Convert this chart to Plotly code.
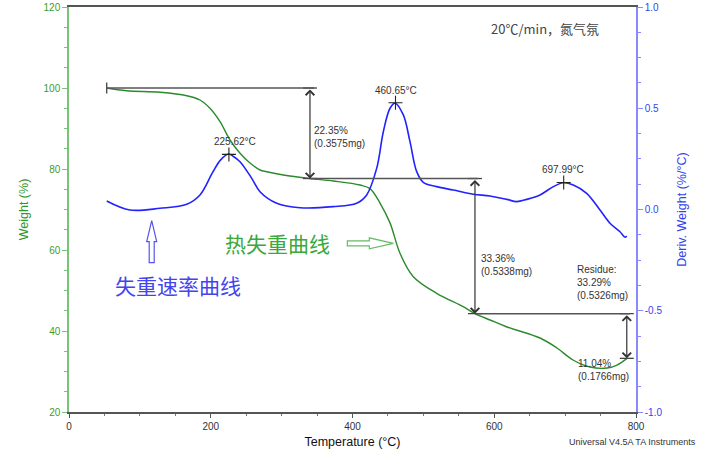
import plotly.graph_objects as go

# ---- data ----
temp_tga = [53.2, 81.4, 128.4, 166.1, 184.8, 198.9, 213.1, 227.2, 241.3, 255.4, 269.5, 278.9,
            302.4, 340.0, 372.9, 410.6, 424.7, 438.8, 452.9, 467.0, 485.8, 518.8, 556.3, 572.8,
            594.0, 618.0, 664.6, 688.5, 711.1, 735.1, 759.1, 773.2, 787.3]
weight = [100.0, 99.33, 98.94, 98.1, 97.04, 94.99, 91.68, 87.16, 83.88, 81.48, 79.75, 79.33,
          78.52, 77.65, 77.04, 76.05, 75.15, 71.6, 66.7, 59.2, 53.41, 49.31, 46.0, 44.29,
          42.72, 40.99, 38.27, 35.8, 32.84, 31.11, 30.86, 31.6, 33.25]

temp_dtg = [53.2, 86.1, 128.4, 166.1, 184.8, 203.2, 214.0, 224.8, 232.0, 241.3, 257.8, 269.5,
            293.1, 325.9, 372.5, 405.9, 420.0, 434.1, 443.5, 452.9, 460.0, 471.7, 481.1, 490.6,
            499.9, 518.8, 542.2, 570.4, 594.0, 617.6, 631.7, 645.8, 664.6, 683.4, 697.5, 711.5,
            730.4, 749.2, 763.3, 777.4, 784.5, 786.9]
deriv = [0.042, -0.0025, 0.006, 0.026, 0.072, 0.187, 0.245, 0.274, 0.262, 0.236, 0.154, 0.088,
         0.031, 0.009, 0.014, 0.031, 0.072, 0.203, 0.384, 0.50, 0.525, 0.467, 0.335, 0.187,
         0.134, 0.113, 0.096, 0.075, 0.067, 0.050, 0.039, 0.050, 0.072, 0.113, 0.132, 0.121,
         0.080, -0.0025, -0.068, -0.110, -0.137, -0.131]

peak_T = [225.62, 460.65, 697.99]
peak_D = [0.272, 0.527, 0.133]
peak_labels = ["225.62°C", "460.65°C", "697.99°C"]

# step analysis (weight %, temperatures)
step_start_T = 53.2
step_T = [340.0, 572.8, 787.0]
step_W = [100.0, 77.65, 44.29, 33.25]
step_texts = ["22.35%<br>(0.3575mg)", "33.36%<br>(0.5338mg)", "11.04%<br>(0.1766mg)"]
residue_text = "Residue:<br>33.29%<br>(0.5326mg)"

x_ticks = [0, 200, 400, 600, 800]
y_ticks = [20, 40, 60, 80, 100, 120]
y2_ticks = [1.0, 0.5, 0.0, -0.5, -1.0]
y2_ticktext = ["1.0", "0.5", "0.0", "-0.5", "-1.0"]

GREEN = "#2b8a2b"
BLUE = "#2222ff"
FONT = "Liberation Sans, Arial, sans-serif"
CJK = "Noto Sans CJK SC, sans-serif"
TXT = "#333333"

fig = go.Figure()
fig.add_trace(go.Scatter(x=temp_tga, y=weight, mode="lines", line=dict(color=GREEN, width=1.4, shape="spline"),
                         yaxis="y", showlegend=False, hoverinfo="skip"))
fig.add_trace(go.Scatter(x=temp_dtg, y=deriv, mode="lines", line=dict(color=BLUE, width=1.6, shape="spline"),
                         yaxis="y2", showlegend=False, hoverinfo="skip"))
# peak markers
fig.add_trace(go.Scatter(x=peak_T, y=peak_D, mode="markers", yaxis="y2", showlegend=False, hoverinfo="skip",
                         marker=dict(symbol="cross-thin-open", size=10, color="#222222",
                                     line=dict(color="#222222", width=1.1))))

# horizontal step lines
h_lines = [(step_start_T, step_T[0] + 6, step_W[0]),
           (step_T[0], step_T[1] + 4, step_W[1]),
           (step_T[1], step_T[2] + 4, step_W[2])]
for x0, x1, yv in h_lines:
    fig.add_shape(type="line", xref="x", yref="y", x0=x0, x1=x1, y0=yv, y1=yv,
                  line=dict(color="#555555", width=1.5))
# start tick
fig.add_trace(go.Scatter(x=[step_start_T], y=[step_W[0]], mode="markers", showlegend=False, hoverinfo="skip",
                         marker=dict(symbol="line-ns-open", size=8, color="#444444",
                                     line=dict(color="#444444", width=1.3))))
# end ticks of vertical arrows
tick_x = [step_T[0], step_T[0], step_T[1], step_T[1], step_T[2], step_T[2]]
tick_y = [step_W[0], step_W[1], step_W[1], step_W[2], step_W[2], step_W[3]]
fig.add_trace(go.Scatter(x=tick_x, y=tick_y, mode="markers", showlegend=False, hoverinfo="skip",
                         marker=dict(symbol="line-ew-open", size=10, color="#444444",
                                     line=dict(color="#444444", width=1.3))))

# vertical double arrows
for i, t in enumerate(step_T):
    fig.add_annotation(x=t, y=step_W[i + 1], ax=t, ay=step_W[i], xref="x", yref="y", axref="x", ayref="y",
                       text="", showarrow=True, arrowhead=4, startarrowhead=4, arrowside="end+start",
                       arrowsize=1.4, startarrowsize=1.4, arrowwidth=1.2, arrowcolor="#333333",
                       standoff=0, startstandoff=0)

# step texts
txt_pos = [(342.4, 88.0), (578.9, 56.4), (715.3, 30.4)]
for (tx, ty), s in zip(txt_pos, step_texts):
    fig.add_annotation(x=tx, y=ty, xref="x", yref="y", text=s, showarrow=False, xanchor="left",
                       yanchor="middle", align="left", font=dict(family=FONT, size=10, color=TXT))
fig.add_annotation(x=713.9, y=51.9, xref="x", yref="y", text=residue_text, showarrow=False, xanchor="left",
                   yanchor="middle", align="left", font=dict(family=FONT, size=10, color=TXT))

# peak labels (placed on weight axis)
peak_lab_pos = [(234.9, 86.74), (460.7, 99.33), (697.7, 80.0)]
for (tx, ty), s in zip(peak_lab_pos, peak_labels):
    fig.add_annotation(x=tx, y=ty, xref="x", yref="y", text=s, showarrow=False, xanchor="center",
                       yanchor="middle", font=dict(family=FONT, size=10, color=TXT))

# Chinese notes
fig.add_annotation(x=671.6, y=114.8, xref="x", yref="y", text="20℃/min，氮气氛", showarrow=False,
                   font=dict(family=CJK, size=13, color="#444444"))
fig.add_annotation(x=294.2, y=61.65, xref="x", yref="y", text="热失重曲线", showarrow=False,
                   font=dict(family=CJK, size=21, color="#3aa83a"))
fig.add_annotation(x=153.8, y=51.36, xref="x", yref="y", text="失重速率曲线", showarrow=False,
                   font=dict(family=CJK, size=21, color="#4444ee"))

# hollow block arrows
fig.add_shape(type="path", xref="x", yref="y", xsizemode="pixel", ysizemode="pixel",
              xanchor=116.7, yanchor=67.23,
              path="M0,0 L5,-21 L2.5,-21 L2.5,-42 L-2.5,-42 L-2.5,-21 L-5,-21 Z",
              line=dict(color="#5555ee", width=1.2), fillcolor="rgba(0,0,0,0)")
fig.add_shape(type="path", xref="x", yref="y", xsizemode="pixel", ysizemode="pixel",
              xanchor=457.6, yanchor=61.65,
              path="M0,0 L-24,5.5 L-24,2.5 L-46,2.5 L-46,-2.5 L-24,-2.5 L-24,-5.5 Z",
              line=dict(color="#66bb66", width=1.2), fillcolor="rgba(0,0,0,0)")

# footer
fig.add_annotation(x=1.0, y=-0.075, xref="paper", yref="paper", text="Universal V4.5A TA Instruments",
                   showarrow=False, xanchor="center", yanchor="middle",
                   font=dict(family=FONT, size=9, color="#333"), xshift=-4)

fig.update_layout(
    width=706, height=453, margin=dict(l=69, r=70, t=7, b=41, autoexpand=False),
    paper_bgcolor="white", plot_bgcolor="white", showlegend=False,
    font=dict(family=FONT, size=10, color=TXT),
    xaxis=dict(range=[0, 800], tickvals=x_ticks, showgrid=False, zeroline=False, automargin=False,
               showline=True, linecolor="#555555", linewidth=1.5, mirror=True,
               ticks="outside", ticklen=4, tickcolor="#555", tickfont=dict(size=10, color="#333"),
               minor=dict(dtick=50, ticks="outside", ticklen=2, tickcolor="#777", showgrid=False),
               title=dict(text="Temperature (°C)", font=dict(size=12.5, color="#111"), standoff=6)),
    yaxis=dict(range=[20, 120], tickvals=y_ticks, showgrid=False, zeroline=False, automargin=False,
               showline=True, linecolor="#77c477", linewidth=1.5,
               ticks="outside", ticklen=5, tickcolor="#77c477", tickfont=dict(size=10, color="#3f9a2f"),
               minor=dict(dtick=5, ticks="outside", ticklen=3, tickcolor="#77c477", showgrid=False),
               title=dict(text="Weight (%)", font=dict(size=12.5, color="#2f962f"), standoff=12)),
    yaxis2=dict(range=[-1, 1], overlaying="y", side="right", tickvals=y2_ticks, ticktext=y2_ticktext,
                showgrid=False, zeroline=False, showline=True, linecolor="#8888ff", linewidth=1.5,
                automargin=False,
                ticks="outside", ticklen=5, tickcolor="#8888ff", tickfont=dict(size=10, color="#3344ee"),
                minor=dict(dtick=0.125, ticks="outside", ticklen=3, tickcolor="#8888ff", showgrid=False),
                title=dict(text="Deriv. Weight (%/°C)", font=dict(size=12.5, color="#3344ee"), standoff=16)),
)

fig.write_html("out.html")
